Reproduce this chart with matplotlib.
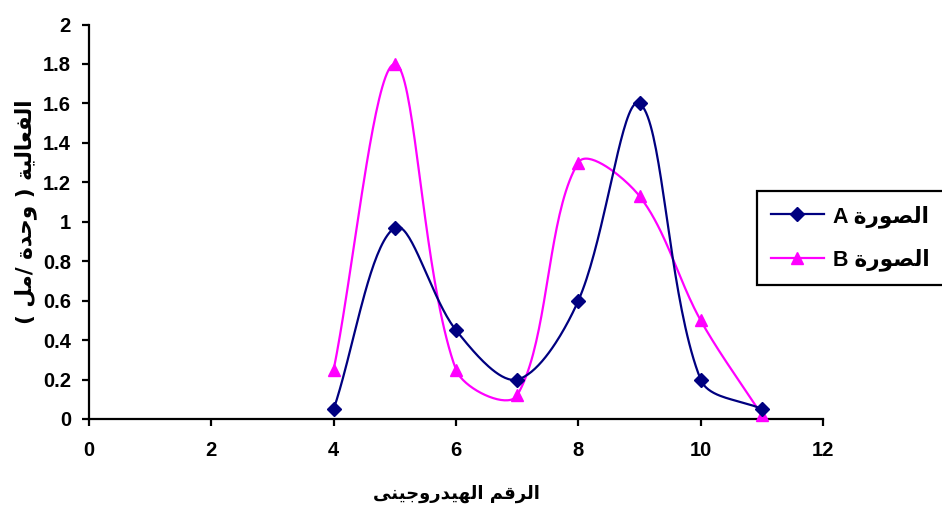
import numpy as np
import matplotlib
matplotlib.use("Agg")
import matplotlib.pyplot as plt
from matplotlib.lines import Line2D

# ---- data ----
x_vals = [4, 5, 6, 7, 8, 9, 10, 11]
series_a = [0.05, 0.97, 0.45, 0.2, 0.6, 1.6, 0.2, 0.05]
series_b = [0.25, 1.8, 0.25, 0.12, 1.3, 1.13, 0.5, 0.02]
x_ticks = [0, 2, 4, 6, 8, 10, 12]
y_ticks = [0, 0.2, 0.4, 0.6, 0.8, 1, 1.2, 1.4, 1.6, 1.8, 2]
x_label = "الرقم الهيدروجينى"
y_label = "الفعالية ( وحدة /مل )"
name_a = "الصورة"
name_b = "الصورة"

# ---- minimal Arabic shaping (presentation forms, visual order) ----
FORMS = {
    'ا': ('\uFE8D', '\uFE8E', None, None),
    'ل': ('\uFEDD', '\uFEDE', '\uFEDF', '\uFEE0'),
    'ف': ('\uFED1', '\uFED2', '\uFED3', '\uFED4'),
    'ع': ('\uFEC9', '\uFECA', '\uFECB', '\uFECC'),
    'ي': ('\uFEF1', '\uFEF2', '\uFEF3', '\uFEF4'),
    'ة': ('\uFE93', '\uFE94', None, None),
    'و': ('\uFEED', '\uFEEE', None, None),
    'ح': ('\uFEA1', '\uFEA2', '\uFEA3', '\uFEA4'),
    'د': ('\uFEA9', '\uFEAA', None, None),
    'م': ('\uFEE1', '\uFEE2', '\uFEE3', '\uFEE4'),
    'ر': ('\uFEAD', '\uFEAE', None, None),
    'ق': ('\uFED5', '\uFED6', '\uFED7', '\uFED8'),
    'ه': ('\uFEE9', '\uFEEA', '\uFEEB', '\uFEEC'),
    'ج': ('\uFE9D', '\uFE9E', '\uFE9F', '\uFEA0'),
    'ن': ('\uFEE5', '\uFEE6', '\uFEE7', '\uFEE8'),
    'ى': ('\uFEEF', '\uFEF0', None, None),
    'ص': ('\uFEB9', '\uFEBA', '\uFEBB', '\uFEBC'),
}


def shape(text):
    out = []
    n = len(text)
    for i, ch in enumerate(text):
        if ch not in FORMS:
            out.append(ch)
            continue
        f = FORMS[ch]
        prev = text[i - 1] if i > 0 else None
        nxt = text[i + 1] if i < n - 1 else None
        join_prev = prev in FORMS and FORMS[prev][2] is not None
        join_next = nxt in FORMS and f[2] is not None
        if join_prev and join_next:
            out.append(f[3])
        elif join_prev:
            out.append(f[1])
        elif join_next:
            out.append(f[2])
        else:
            out.append(f[0])
    vis = ''.join(reversed(out))
    mirror = {'(': ')', ')': '('}
    return ''.join(mirror.get(c, c) for c in vis)


fam = ['Liberation Sans', 'DejaVu Sans']
plt.rcParams['font.family'] = fam

fig = plt.figure(figsize=(9.42, 5.09), dpi=100)
ax = fig.add_axes([89 / 942, 1 - 419 / 509, (823 - 89) / 942, (419 - 24.5) / 509])
ax.set_xlim(0, 12)
ax.set_ylim(0, 2)


def smooth(xs, ys, n=40):
    # Bezier smoothing done in display space, tangents scaled by segment lengths
    pts = ax.transData.transform(np.column_stack([xs, ys]))
    P = np.vstack([pts[0], pts, pts[-1]])
    t = np.linspace(0, 1, n)
    res = []
    for i in range(1, len(P) - 2):
        p0, p1, p2, p3 = P[i - 1], P[i], P[i + 1], P[i + 2]
        d01 = np.hypot(*(p1 - p0))
        d12 = np.hypot(*(p2 - p1))
        d23 = np.hypot(*(p3 - p2))
        f1 = d12 / (d01 + d12) if d01 + d12 > 0 else 0
        f2 = d12 / (d12 + d23) if d12 + d23 > 0 else 0
        c1 = p1 + (p2 - p0) * f1 / 3
        c2 = p2 - (p3 - p1) * f2 / 3
        b = ((1 - t) ** 3)[:, None] * p1 + (3 * (1 - t) ** 2 * t)[:, None] * c1 \
            + (3 * (1 - t) * t ** 2)[:, None] * c2 + (t ** 3)[:, None] * p2
        res.append(b)
    res = np.vstack(res)
    d = ax.transData.inverted().transform(res)
    return d[:, 0], d[:, 1]


col_a = '#000080'
col_b = '#FF00FF'

sx, sy = smooth(x_vals, series_a)
ax.plot(sx, sy, color=col_a, lw=1.6, zorder=3)
ax.plot(x_vals, series_a, ls='none', marker='D', ms=7, color=col_a, zorder=4, clip_on=False)
sx, sy = smooth(x_vals, series_b)
ax.plot(sx, sy, color=col_b, lw=1.6, zorder=2)
ax.plot(x_vals, series_b, ls='none', marker='^', ms=9, color=col_b, zorder=3, clip_on=False)

ax.set_xticks(x_ticks)
ax.set_yticks(y_ticks)
ax.set_xticklabels([str(v) for v in x_ticks])
ax.set_yticklabels([('%g' % v) for v in y_ticks])
for s in ['top', 'right']:
    ax.spines[s].set_visible(False)
for s in ['left', 'bottom']:
    ax.spines[s].set_linewidth(1.6)
ax.tick_params(direction='out', length=5, width=1.6, labelsize=14.5, pad=8)
for lab in ax.get_xticklabels() + ax.get_yticklabels():
    lab.set_fontweight('bold')
ax.tick_params(axis='x', pad=11)

fig.text(456 / 942, 1 - 494 / 509, shape(x_label), ha='center', va='center',
         fontsize=13, fontweight='bold', family=['DejaVu Sans'])
fig.text(26 / 942, 1 - 212 / 509, shape(y_label), ha='center', va='center',
         rotation=90, fontsize=15.5, fontweight='bold', family=['DejaVu Sans'])

handles = [
    Line2D([], [], color=col_a, lw=1.6, marker='D', ms=7),
    Line2D([], [], color=col_b, lw=1.6, marker='^', ms=9),
]
labels = ['A ' + shape(name_a), 'B ' + shape(name_b)]
leg = fig.legend(handles, labels, loc='upper left', bbox_to_anchor=(757 / 942, 1 - 191 / 509),
                 frameon=True, fancybox=False, edgecolor='black', framealpha=1,
                 prop={'family': ['Liberation Sans', 'DejaVu Sans'], 'weight': 'bold', 'size': 15.5},
                 handlelength=2.45, handletextpad=0.45, labelspacing=0.95, borderpad=0.65,
                 borderaxespad=0)
leg.get_frame().set_linewidth(1.6)

fig.savefig('out.png', dpi=100)
